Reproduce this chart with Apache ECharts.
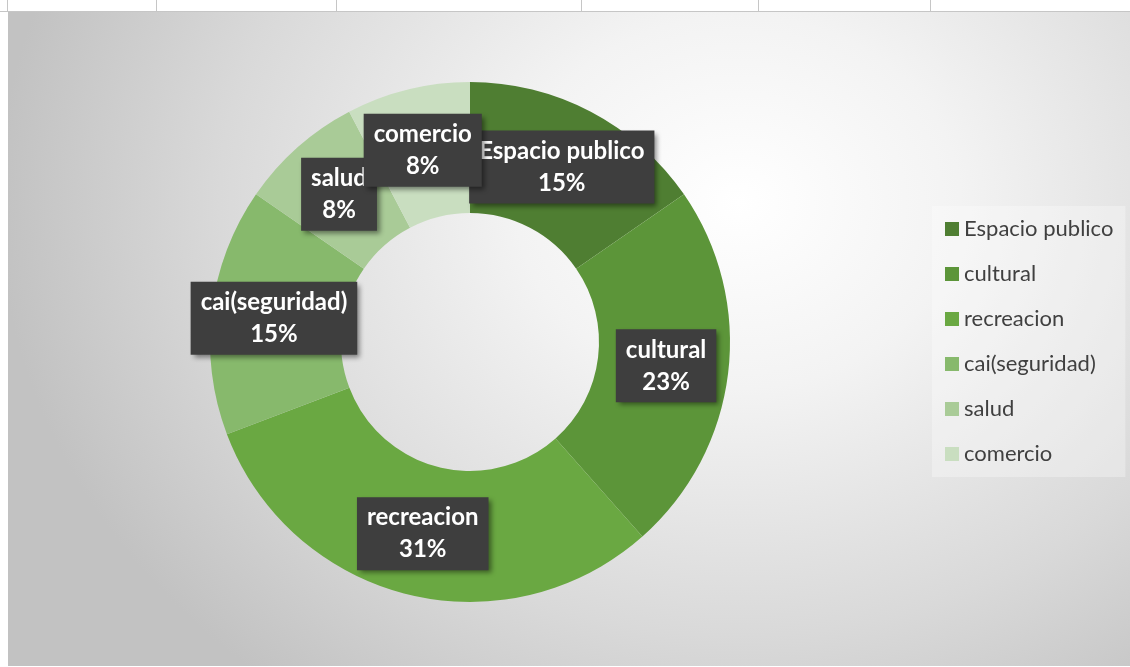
<!DOCTYPE html>
<html>
<head>
<meta charset="utf-8">
<script src="https://cdn.jsdelivr.net/npm/echarts@6/dist/echarts.min.js"></script>
<style>
  html, body { margin: 0; padding: 0; background: #ffffff; width: 1130px; height: 667px; overflow: hidden; }
  #sheet { position: absolute; left: 0; top: 0; width: 1130px; height: 11px; border-bottom: 1px solid #c6c6c6; }
  .vl { position: absolute; top: 0; width: 1px; height: 11px; background: #c6c6c6; }
  #chart { position: absolute; left: 8px; top: 12px; width: 1122px; height: 654px;
    background: radial-gradient(ellipse 740px 620px at 730px 190px, #ffffff 0%, #f3f3f3 30%, #d9d9d9 70%, #c2c2c2 100%); }
</style>
</head>
<body>
<div id="sheet">
  <div class="vl" style="left:7px"></div>
  <div class="vl" style="left:156px"></div>
  <div class="vl" style="left:336px"></div>
  <div class="vl" style="left:581px"></div>
  <div class="vl" style="left:758px"></div>
  <div class="vl" style="left:930px"></div>
</div>
<div id="chart"></div>
<script>
const categories = ['Espacio publico', 'cultural', 'recreacion', 'cai(seguridad)', 'salud', 'comercio'];
const values = [2, 3, 4, 2, 1, 1];
const colors = ['#4f7e32', '#5c9539', '#6aa842', '#87b96c', '#a9cb97', '#c9dec0'];

const chart = echarts.init(document.getElementById('chart'), null, { renderer: 'canvas' });
const option = {
  animation: false,
  backgroundColor: 'transparent',
  color: colors,
  legend: {
    orient: 'vertical',
    left: 924,
    top: 194,
    padding: [12, 12, 12, 13],
    backgroundColor: 'rgba(255,255,255,0.3)',
    icon: 'rect',
    itemWidth: 14,
    itemHeight: 14,
    itemGap: 23,
    itemTextGap: 6,
    textStyle: { fontFamily: 'Lato', fontSize: 22, color: '#404040', lineHeight: 22 },
    data: categories
  },
  series: [{
    type: 'pie',
    center: [462, 330],
    radius: [129, 260],
    startAngle: 90,
    clockwise: true,
    percentPrecision: 0,
    avoidLabelOverlap: false,
    labelLayout: { hideOverlap: false },
    silent: true,
    label: {
      show: true,
      position: 'inside',
      formatter: '{b}\n{d}%',
      color: '#ffffff',
      fontFamily: 'Lato',
      fontWeight: 'bold',
      fontSize: 24,
      lineHeight: 32,
      align: 'center',
      backgroundColor: '#3e3e3e',
      padding: [5, 10, 4, 10],
      shadowColor: 'rgba(0,0,0,0.45)',
      shadowBlur: 5,
      shadowOffsetX: 3,
      shadowOffsetY: 3
    },
    labelLine: { show: false },
    emphasis: { disabled: true },
    data: categories.map((c, i) => ({ name: c, value: values[i] }))
  }]
};
chart.setOption(option);
</script>
</body>
</html>
